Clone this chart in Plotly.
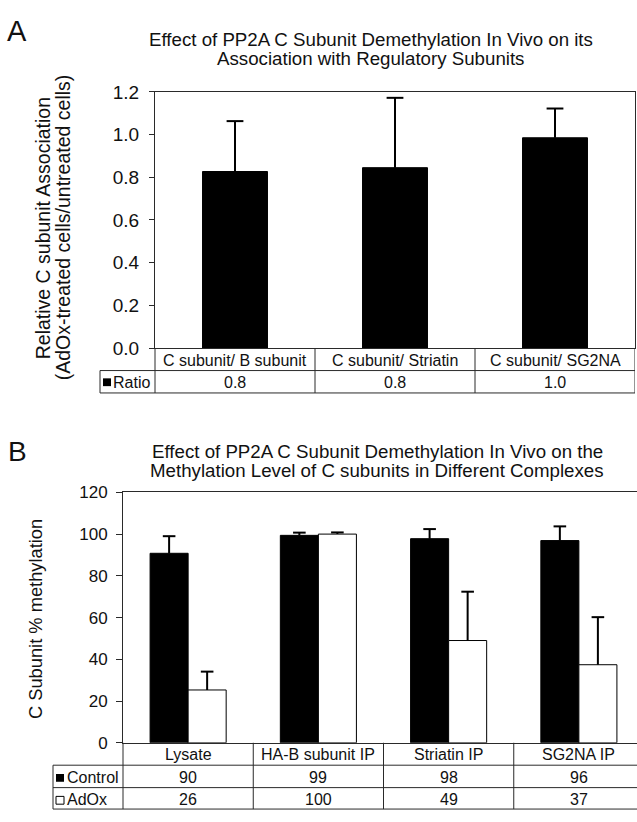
import plotly.graph_objects as go

W, H = 637, 822
FONT = "Liberation Sans, Arial, Helvetica, sans-serif"
LINE = "#2a2a2a"

# ---------------- data: panel A ----------------
a_categories = ["C subunit/ B subunit", "C subunit/ Striatin", "C subunit/ SG2NA"]
a_ratio = [0.827, 0.845, 0.985]
a_ratio_err = [0.236, 0.327, 0.137]
a_ratio_table = ["0.8", "0.8", "1.0"]
a_yticks = [0.0, 0.2, 0.4, 0.6, 0.8, 1.0, 1.2]
a_yticklabels = ["0.0", "0.2", "0.4", "0.6", "0.8", "1.0", "1.2"]

# ---------------- data: panel B ----------------
b_categories = ["Lysate", "HA-B subunit IP", "Striatin IP", "SG2NA IP"]
b_control = [90.8, 99.4, 97.8, 96.9]
b_control_err = [8.2, 1.3, 4.6, 6.8]
b_adox = [25.3, 100.0, 49.0, 37.4]
b_adox_err = [8.8, 0.8, 23.4, 22.8]
b_control_table = ["90", "99", "98", "96"]
b_adox_table = ["26", "100", "49", "37"]
b_yticks = [0, 20, 40, 60, 80, 100, 120]


def px(x):
    return x / W


def py(y):
    return 1 - y / H


fig = go.Figure()


def bar_with_err(xs, ys, errs, width, offset, fill, xa, ya, cap):
    # bar with a plain vertical error stem (no caps), caps added as line markers
    fig.add_trace(go.Bar(
        x=xs, y=ys, width=width, offset=offset,
        marker=dict(color=fill, line=dict(color="black", width=1)),
        error_y=dict(type="data", symmetric=False, array=errs,
                     arrayminus=[0] * len(ys), color="black", thickness=2, width=0),
        xaxis=xa, yaxis=ya, showlegend=False, hoverinfo="skip"))
    centers = [x + offset + width / 2 for x in xs]
    tops = [y + e for y, e in zip(ys, errs)]
    fig.add_trace(go.Scatter(
        x=centers, y=tops, mode="markers",
        marker=dict(symbol="line-ew", size=cap, line=dict(color="black", width=2)),
        xaxis=xa, yaxis=ya, showlegend=False, hoverinfo="skip", cliponaxis=False))


a_x = list(range(len(a_categories)))
b_x = list(range(len(b_categories)))
abw = 0.406
bw = 0.292
bar_with_err(a_x, a_ratio, a_ratio_err, abw, -abw / 2, "black", "x", "y", 12)
bar_with_err(b_x, b_control, b_control_err, bw, -bw, "black", "x2", "y2", 9)
bar_with_err(b_x, b_adox, b_adox_err, bw, 0, "white", "x2", "y2", 9)

# geometry (pixels)
A_L, A_R, A_T, A_B = 155, 635, 84, 347
A_ROWS = [347, 370, 393]
A_LAB_L = 100
B_L, B_R, B_T, B_B = 123, 637, 495, 752
B_COLW = 130.25
B_ROWS = [752, 775, 798, 820]
B_LAB_L = 53

b_xmax = -0.5 + (B_R - B_L) / B_COLW

fig.update_layout(
    width=W, height=H, margin=dict(l=0, r=0, t=0, b=0),
    paper_bgcolor="white", plot_bgcolor="white",
    font=dict(family=FONT, color="#111"),
    barmode="overlay",
    xaxis=dict(domain=[px(A_L), px(A_R)], range=[-0.5, len(a_categories) - 0.5],
               showticklabels=False, ticks="", showgrid=False, zeroline=False,
               showline=True, linecolor=LINE, linewidth=1, mirror=True, fixedrange=True),
    yaxis=dict(domain=[py(A_B), py(A_T)], range=[0, 1.2], tickvals=a_yticks,
               ticktext=a_yticklabels, ticks="outside", ticklen=5, tickcolor=LINE,
               tickfont=dict(size=19, family=FONT, color="#111"), ticklabelstandoff=6,
               showgrid=False, zeroline=False, showline=True, linecolor=LINE,
               linewidth=1, mirror=True),
    xaxis2=dict(domain=[px(B_L), 1.0], range=[-0.5, b_xmax], anchor="y2",
                showticklabels=False, ticks="", showgrid=False, zeroline=False,
                showline=True, linecolor=LINE, linewidth=1, mirror=True),
    yaxis2=dict(domain=[py(B_B), py(B_T)], range=[0, 120], tickvals=b_yticks,
                anchor="x2", ticks="outside", ticklen=6, tickcolor=LINE,
                tickfont=dict(size=17, family=FONT, color="#111"), ticklabelstandoff=5,
                showgrid=False, zeroline=False, showline=True, linecolor=LINE,
                linewidth=1, mirror=False),
)

shapes = []
ann = []


def hline(x0, x1, y, xref="paper"):
    shapes.append(dict(type="line", xref=xref, yref="paper", x0=x0, x1=x1,
                       y0=py(y), y1=py(y), line=dict(color=LINE, width=1)))


def vline(x, y0, y1, xref="paper"):
    shapes.append(dict(type="line", xref=xref, yref="paper", x0=x, x1=x,
                       y0=py(y0), y1=py(y1), line=dict(color=LINE, width=1)))


def text(x, y, s, size, xref="paper", xanchor="center", angle=0):
    ann.append(dict(x=x, y=py(y), xref=xref, yref="paper", text=s, showarrow=False,
                    xanchor=xanchor, yanchor="middle", textangle=angle,
                    font=dict(size=size, family=FONT, color="#111")))


# ---- Panel A table ----
hline(px(A_LAB_L), px(A_R), A_ROWS[1])
hline(px(A_LAB_L), px(A_R), A_ROWS[2])
vline(px(A_LAB_L), A_ROWS[1], A_ROWS[2])
vline(px(A_L), A_ROWS[0], A_ROWS[2])
for i in range(len(a_categories)):
    vline(i + 0.5, A_ROWS[0], A_ROWS[2], xref="x")
    text(i, (A_ROWS[0] + A_ROWS[1]) / 2 + 1, a_categories[i], 16, xref="x")
    text(i, (A_ROWS[1] + A_ROWS[2]) / 2 + 1, a_ratio_table[i], 16, xref="x")
shapes.append(dict(type="rect", xref="paper", yref="paper", x0=px(103), x1=px(111),
                   y0=py(386), y1=py(378), fillcolor="black", line=dict(width=0)))
text(px(111), (A_ROWS[1] + A_ROWS[2]) / 2 + 1, "Ratio", 16, xanchor="left")

# ---- Panel B table ----
for r in B_ROWS[1:]:
    hline(px(B_LAB_L), 1.0, r)
vline(px(B_LAB_L), B_ROWS[1], B_ROWS[3])
vline(px(B_L), B_ROWS[0], B_ROWS[3])
for i in range(len(b_categories)):
    if i < len(b_categories) - 1:
        vline(i + 0.5, B_ROWS[0], B_ROWS[3], xref="x2")
    text(i, (B_ROWS[0] + B_ROWS[1]) / 2 + 1, b_categories[i], 16, xref="x2")
    text(i, (B_ROWS[1] + B_ROWS[2]) / 2 + 1, b_control_table[i], 16, xref="x2")
    text(i, (B_ROWS[2] + B_ROWS[3]) / 2 + 1, b_adox_table[i], 16, xref="x2")
shapes.append(dict(type="rect", xref="paper", yref="paper", x0=px(56), x1=px(64),
                   y0=py(792), y1=py(784), fillcolor="black", line=dict(width=0)))
shapes.append(dict(type="rect", xref="paper", yref="paper", x0=px(56), x1=px(64),
                   y0=py(815), y1=py(807), fillcolor="white",
                   line=dict(color="black", width=1)))
text(px(65), (B_ROWS[1] + B_ROWS[2]) / 2 + 1, "Control", 16, xanchor="left")
text(px(65), (B_ROWS[2] + B_ROWS[3]) / 2 + 1, "AdOx", 16, xanchor="left")

# ---- titles, labels ----
text(px(17), 22, "A", 29)
text(px(17), 453, "B", 28)
text(px(370.5), 30.25, "Effect of PP2A C Subunit Demethylation In Vivo on its", 18.7)
text(px(370.5), 49.75, "Association with Regulatory Subunits", 18.7)
text(px(377), 452.75, "Effect of PP2A C Subunit Demethylation In Vivo on the", 18.7)
text(px(377), 472.25, "Methylation Level of C subunits in Different Complexes", 18.7)
text(px(43), 224, "Relative C subunit Association", 19.5, angle=-90)
text(px(63), 223, "(AdOx-treated cells/untreated cells)", 19.5, angle=-90)
text(px(35), 625, "C Subunit % methylation", 18.3, angle=-90)

fig.update_layout(shapes=shapes, annotations=ann)
# remove the browser's default 8px body margin so the figure sits at the page origin
fig.write_html("out.html", config={"displayModeBar": False},
               post_script="document.body.style.margin='0';")
